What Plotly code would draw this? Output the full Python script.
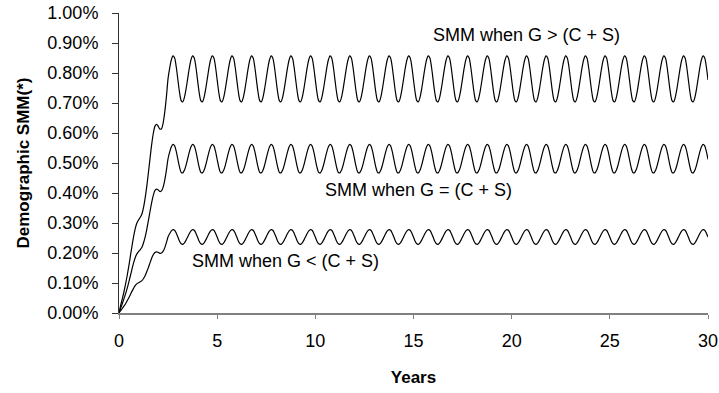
import plotly.graph_objects as go

# Monthly demographic SMM (%), one row per year (12 months), plus final month 360
SMM_HIGH_ROWS = [
    [0.000, 0.025, 0.047, 0.070, 0.096, 0.125, 0.156, 0.191, 0.225, 0.257, 0.283, 0.301],
    [0.311, 0.319, 0.330, 0.352, 0.384, 0.423, 0.469, 0.517, 0.563, 0.600, 0.623, 0.629],
    [0.622, 0.613, 0.614, 0.634, 0.671, 0.722, 0.782, 0.817, 0.844, 0.857, 0.850, 0.820],
    [0.777, 0.735, 0.708, 0.704, 0.719, 0.747, 0.782, 0.817, 0.844, 0.857, 0.850, 0.820],
    [0.777, 0.735, 0.708, 0.704, 0.719, 0.747, 0.782, 0.817, 0.844, 0.857, 0.850, 0.820],
    [0.777, 0.735, 0.708, 0.704, 0.719, 0.747, 0.782, 0.817, 0.844, 0.857, 0.850, 0.820],
    [0.777, 0.735, 0.708, 0.704, 0.719, 0.747, 0.782, 0.817, 0.844, 0.857, 0.850, 0.820],
    [0.777, 0.735, 0.708, 0.704, 0.719, 0.747, 0.782, 0.817, 0.844, 0.857, 0.850, 0.820],
    [0.777, 0.735, 0.708, 0.704, 0.719, 0.747, 0.782, 0.817, 0.844, 0.857, 0.850, 0.820],
    [0.777, 0.735, 0.708, 0.704, 0.719, 0.747, 0.782, 0.817, 0.844, 0.857, 0.850, 0.820],
    [0.777, 0.735, 0.708, 0.704, 0.719, 0.747, 0.782, 0.817, 0.844, 0.857, 0.850, 0.820],
    [0.777, 0.735, 0.708, 0.704, 0.719, 0.747, 0.782, 0.817, 0.844, 0.857, 0.850, 0.820],
    [0.777, 0.735, 0.708, 0.704, 0.719, 0.747, 0.782, 0.817, 0.844, 0.857, 0.850, 0.820],
    [0.777, 0.735, 0.708, 0.704, 0.719, 0.747, 0.782, 0.817, 0.844, 0.857, 0.850, 0.820],
    [0.777, 0.735, 0.708, 0.704, 0.719, 0.747, 0.782, 0.817, 0.844, 0.857, 0.850, 0.820],
    [0.777, 0.735, 0.708, 0.704, 0.719, 0.747, 0.782, 0.817, 0.844, 0.857, 0.850, 0.820],
    [0.777, 0.735, 0.708, 0.704, 0.719, 0.747, 0.782, 0.817, 0.844, 0.857, 0.850, 0.820],
    [0.777, 0.735, 0.708, 0.704, 0.719, 0.747, 0.782, 0.817, 0.844, 0.857, 0.850, 0.820],
    [0.777, 0.735, 0.708, 0.704, 0.719, 0.747, 0.782, 0.817, 0.844, 0.857, 0.850, 0.820],
    [0.777, 0.735, 0.708, 0.704, 0.719, 0.747, 0.782, 0.817, 0.844, 0.857, 0.850, 0.820],
    [0.777, 0.735, 0.708, 0.704, 0.719, 0.747, 0.782, 0.817, 0.844, 0.857, 0.850, 0.820],
    [0.777, 0.735, 0.708, 0.704, 0.719, 0.747, 0.782, 0.817, 0.844, 0.857, 0.850, 0.820],
    [0.777, 0.735, 0.708, 0.704, 0.719, 0.747, 0.782, 0.817, 0.844, 0.857, 0.850, 0.820],
    [0.777, 0.735, 0.708, 0.704, 0.719, 0.747, 0.782, 0.817, 0.844, 0.857, 0.850, 0.820],
    [0.777, 0.735, 0.708, 0.704, 0.719, 0.747, 0.782, 0.817, 0.844, 0.857, 0.850, 0.820],
    [0.777, 0.735, 0.708, 0.704, 0.719, 0.747, 0.782, 0.817, 0.844, 0.857, 0.850, 0.820],
    [0.777, 0.735, 0.708, 0.704, 0.719, 0.747, 0.782, 0.817, 0.844, 0.857, 0.850, 0.820],
    [0.777, 0.735, 0.708, 0.704, 0.719, 0.747, 0.782, 0.817, 0.844, 0.857, 0.850, 0.820],
    [0.777, 0.735, 0.708, 0.704, 0.719, 0.747, 0.782, 0.817, 0.844, 0.857, 0.850, 0.820],
    [0.777, 0.735, 0.708, 0.704, 0.719, 0.747, 0.782, 0.817, 0.844, 0.857, 0.850, 0.820],
    [0.777],
]

SMM_EQUAL_ROWS = [
    [0.000, 0.016, 0.031, 0.047, 0.064, 0.082, 0.103, 0.125, 0.148, 0.169, 0.186, 0.198],
    [0.205, 0.211, 0.219, 0.234, 0.254, 0.279, 0.309, 0.340, 0.369, 0.393, 0.409, 0.413],
    [0.410, 0.405, 0.407, 0.420, 0.444, 0.477, 0.515, 0.537, 0.554, 0.562, 0.557, 0.539],
    [0.512, 0.486, 0.469, 0.467, 0.476, 0.493, 0.515, 0.537, 0.554, 0.562, 0.557, 0.539],
    [0.512, 0.486, 0.469, 0.467, 0.476, 0.493, 0.515, 0.537, 0.554, 0.562, 0.557, 0.539],
    [0.512, 0.486, 0.469, 0.467, 0.476, 0.493, 0.515, 0.537, 0.554, 0.562, 0.557, 0.539],
    [0.512, 0.486, 0.469, 0.467, 0.476, 0.493, 0.515, 0.537, 0.554, 0.562, 0.557, 0.539],
    [0.512, 0.486, 0.469, 0.467, 0.476, 0.493, 0.515, 0.537, 0.554, 0.562, 0.557, 0.539],
    [0.512, 0.486, 0.469, 0.467, 0.476, 0.493, 0.515, 0.537, 0.554, 0.562, 0.557, 0.539],
    [0.512, 0.486, 0.469, 0.467, 0.476, 0.493, 0.515, 0.537, 0.554, 0.562, 0.557, 0.539],
    [0.512, 0.486, 0.469, 0.467, 0.476, 0.493, 0.515, 0.537, 0.554, 0.562, 0.557, 0.539],
    [0.512, 0.486, 0.469, 0.467, 0.476, 0.493, 0.515, 0.537, 0.554, 0.562, 0.557, 0.539],
    [0.512, 0.486, 0.469, 0.467, 0.476, 0.493, 0.515, 0.537, 0.554, 0.562, 0.557, 0.539],
    [0.512, 0.486, 0.469, 0.467, 0.476, 0.493, 0.515, 0.537, 0.554, 0.562, 0.557, 0.539],
    [0.512, 0.486, 0.469, 0.467, 0.476, 0.493, 0.515, 0.537, 0.554, 0.562, 0.557, 0.539],
    [0.512, 0.486, 0.469, 0.467, 0.476, 0.493, 0.515, 0.537, 0.554, 0.562, 0.557, 0.539],
    [0.512, 0.486, 0.469, 0.467, 0.476, 0.493, 0.515, 0.537, 0.554, 0.562, 0.557, 0.539],
    [0.512, 0.486, 0.469, 0.467, 0.476, 0.493, 0.515, 0.537, 0.554, 0.562, 0.557, 0.539],
    [0.512, 0.486, 0.469, 0.467, 0.476, 0.493, 0.515, 0.537, 0.554, 0.562, 0.557, 0.539],
    [0.512, 0.486, 0.469, 0.467, 0.476, 0.493, 0.515, 0.537, 0.554, 0.562, 0.557, 0.539],
    [0.512, 0.486, 0.469, 0.467, 0.476, 0.493, 0.515, 0.537, 0.554, 0.562, 0.557, 0.539],
    [0.512, 0.486, 0.469, 0.467, 0.476, 0.493, 0.515, 0.537, 0.554, 0.562, 0.557, 0.539],
    [0.512, 0.486, 0.469, 0.467, 0.476, 0.493, 0.515, 0.537, 0.554, 0.562, 0.557, 0.539],
    [0.512, 0.486, 0.469, 0.467, 0.476, 0.493, 0.515, 0.537, 0.554, 0.562, 0.557, 0.539],
    [0.512, 0.486, 0.469, 0.467, 0.476, 0.493, 0.515, 0.537, 0.554, 0.562, 0.557, 0.539],
    [0.512, 0.486, 0.469, 0.467, 0.476, 0.493, 0.515, 0.537, 0.554, 0.562, 0.557, 0.539],
    [0.512, 0.486, 0.469, 0.467, 0.476, 0.493, 0.515, 0.537, 0.554, 0.562, 0.557, 0.539],
    [0.512, 0.486, 0.469, 0.467, 0.476, 0.493, 0.515, 0.537, 0.554, 0.562, 0.557, 0.539],
    [0.512, 0.486, 0.469, 0.467, 0.476, 0.493, 0.515, 0.537, 0.554, 0.562, 0.557, 0.539],
    [0.512, 0.486, 0.469, 0.467, 0.476, 0.493, 0.515, 0.537, 0.554, 0.562, 0.557, 0.539],
    [0.512],
]

SMM_LOW_ROWS = [
    [0.000, 0.008, 0.015, 0.023, 0.031, 0.041, 0.051, 0.062, 0.073, 0.083, 0.092, 0.098],
    [0.101, 0.104, 0.108, 0.115, 0.125, 0.138, 0.152, 0.168, 0.183, 0.195, 0.202, 0.204],
    [0.202, 0.199, 0.200, 0.206, 0.218, 0.235, 0.254, 0.265, 0.274, 0.278, 0.276, 0.266],
    [0.253, 0.239, 0.231, 0.229, 0.234, 0.243, 0.254, 0.265, 0.274, 0.278, 0.276, 0.266],
    [0.253, 0.239, 0.231, 0.229, 0.234, 0.243, 0.254, 0.265, 0.274, 0.278, 0.276, 0.266],
    [0.253, 0.239, 0.231, 0.229, 0.234, 0.243, 0.254, 0.265, 0.274, 0.278, 0.276, 0.266],
    [0.253, 0.239, 0.231, 0.229, 0.234, 0.243, 0.254, 0.265, 0.274, 0.278, 0.276, 0.266],
    [0.253, 0.239, 0.231, 0.229, 0.234, 0.243, 0.254, 0.265, 0.274, 0.278, 0.276, 0.266],
    [0.253, 0.239, 0.231, 0.229, 0.234, 0.243, 0.254, 0.265, 0.274, 0.278, 0.276, 0.266],
    [0.253, 0.239, 0.231, 0.229, 0.234, 0.243, 0.254, 0.265, 0.274, 0.278, 0.276, 0.266],
    [0.253, 0.239, 0.231, 0.229, 0.234, 0.243, 0.254, 0.265, 0.274, 0.278, 0.276, 0.266],
    [0.253, 0.239, 0.231, 0.229, 0.234, 0.243, 0.254, 0.265, 0.274, 0.278, 0.276, 0.266],
    [0.253, 0.239, 0.231, 0.229, 0.234, 0.243, 0.254, 0.265, 0.274, 0.278, 0.276, 0.266],
    [0.253, 0.239, 0.231, 0.229, 0.234, 0.243, 0.254, 0.265, 0.274, 0.278, 0.276, 0.266],
    [0.253, 0.239, 0.231, 0.229, 0.234, 0.243, 0.254, 0.265, 0.274, 0.278, 0.276, 0.266],
    [0.253, 0.239, 0.231, 0.229, 0.234, 0.243, 0.254, 0.265, 0.274, 0.278, 0.276, 0.266],
    [0.253, 0.239, 0.231, 0.229, 0.234, 0.243, 0.254, 0.265, 0.274, 0.278, 0.276, 0.266],
    [0.253, 0.239, 0.231, 0.229, 0.234, 0.243, 0.254, 0.265, 0.274, 0.278, 0.276, 0.266],
    [0.253, 0.239, 0.231, 0.229, 0.234, 0.243, 0.254, 0.265, 0.274, 0.278, 0.276, 0.266],
    [0.253, 0.239, 0.231, 0.229, 0.234, 0.243, 0.254, 0.265, 0.274, 0.278, 0.276, 0.266],
    [0.253, 0.239, 0.231, 0.229, 0.234, 0.243, 0.254, 0.265, 0.274, 0.278, 0.276, 0.266],
    [0.253, 0.239, 0.231, 0.229, 0.234, 0.243, 0.254, 0.265, 0.274, 0.278, 0.276, 0.266],
    [0.253, 0.239, 0.231, 0.229, 0.234, 0.243, 0.254, 0.265, 0.274, 0.278, 0.276, 0.266],
    [0.253, 0.239, 0.231, 0.229, 0.234, 0.243, 0.254, 0.265, 0.274, 0.278, 0.276, 0.266],
    [0.253, 0.239, 0.231, 0.229, 0.234, 0.243, 0.254, 0.265, 0.274, 0.278, 0.276, 0.266],
    [0.253, 0.239, 0.231, 0.229, 0.234, 0.243, 0.254, 0.265, 0.274, 0.278, 0.276, 0.266],
    [0.253, 0.239, 0.231, 0.229, 0.234, 0.243, 0.254, 0.265, 0.274, 0.278, 0.276, 0.266],
    [0.253, 0.239, 0.231, 0.229, 0.234, 0.243, 0.254, 0.265, 0.274, 0.278, 0.276, 0.266],
    [0.253, 0.239, 0.231, 0.229, 0.234, 0.243, 0.254, 0.265, 0.274, 0.278, 0.276, 0.266],
    [0.253, 0.239, 0.231, 0.229, 0.234, 0.243, 0.254, 0.265, 0.274, 0.278, 0.276, 0.266],
    [0.253],
]

SERIES_LABELS = ["SMM when G > (C + S)", "SMM when G = (C + S)", "SMM when G < (C + S)"]
X_TICKS = [0, 5, 10, 15, 20, 25, 30]
Y_TICKS = [0.0, 0.1, 0.2, 0.3, 0.4, 0.5, 0.6, 0.7, 0.8, 0.9, 1.0]


def flatten(rows):
    return [v for row in rows for v in row]


smm_high = flatten(SMM_HIGH_ROWS)
smm_equal = flatten(SMM_EQUAL_ROWS)
smm_low = flatten(SMM_LOW_ROWS)
years = [m / 12 for m in range(len(smm_high))]

FONT = "Liberation Sans, Arial, sans-serif"

fig = go.Figure()
for name, vals in zip(SERIES_LABELS, [smm_high, smm_equal, smm_low]):
    fig.add_trace(go.Scatter(
        x=years, y=vals, mode="lines", name=name,
        line=dict(color="black", width=1.2, shape="spline", smoothing=0.8),
        showlegend=False, hoverinfo="skip",
    ))

# Series labels placed in data coordinates
label_pos = [(20.78, 0.928), (15.26, 0.41), (8.49, 0.172)]
for text, (lx, ly) in zip(SERIES_LABELS, label_pos):
    fig.add_annotation(x=lx, y=ly, text=text, showarrow=False,
                       xanchor="center", yanchor="middle",
                       font=dict(family=FONT, size=18, color="black"))

fig.update_layout(
    width=719, height=393,
    margin=dict(l=119, r=11, t=13, b=80, pad=0),
    paper_bgcolor="white", plot_bgcolor="white",
    font=dict(family=FONT, size=18, color="black"),
)
fig.update_xaxes(
    range=[0, 30], tickvals=X_TICKS, ticktext=[str(t) for t in X_TICKS],
    showgrid=False, zeroline=False, automargin=False,
    showline=True, linecolor="#808080", linewidth=2,
    ticks="outside", ticklen=4, tickcolor="#808080", tickwidth=1,
    ticklabelstandoff=6,
    tickfont=dict(family=FONT, size=18),
    title=dict(text="<b>Years</b>", font=dict(family=FONT, size=17), standoff=22),
)
fig.update_yaxes(
    range=[0, 1.0], tickvals=Y_TICKS, ticktext=[f"{t:.2f}%" for t in Y_TICKS],
    showgrid=False, zeroline=False, automargin=False,
    showline=True, linecolor="#333333", linewidth=1,
    ticks="outside", ticklen=6, tickcolor="#333333", tickwidth=1,
    ticklabelstandoff=10,
    tickfont=dict(family=FONT, size=18),
    title=dict(text="<b>Demographic SMM(*)</b>", font=dict(family=FONT, size=17), standoff=13),
)

fig.write_html("out.html")
